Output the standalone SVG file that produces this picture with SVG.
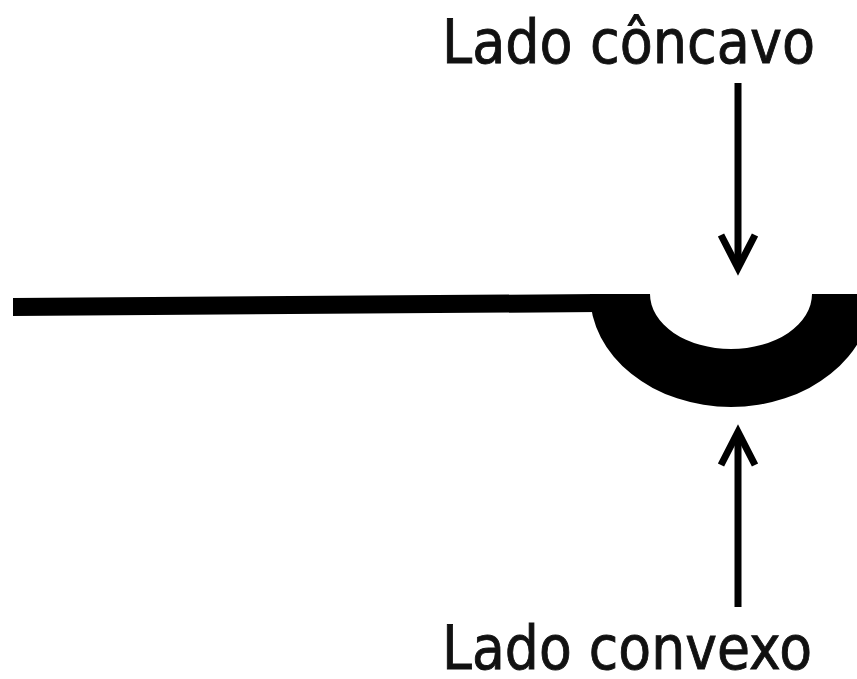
<svg xmlns="http://www.w3.org/2000/svg" width="857" height="679" viewBox="0 0 857 679">
<style>
.lbl{font-family:"DejaVu Sans","Liberation Sans",sans-serif;font-size:60px;fill:#111;stroke:#111;stroke-width:0.9;}
.arr{stroke:#000;stroke-width:7;fill:none;}
</style>
<rect width="857" height="679" fill="#fff"/>
<g id="shape">
<polygon points="13,298 600,294 600,312 13,316" fill="#000"/>
<path d="M590,294 A141,113 0 0 0 872,294 L812,294 A81,55 0 0 1 650,294 Z" fill="#000"/>
</g>
<g id="label-concavo">
<text class="lbl" x="442" y="63" textLength="373" lengthAdjust="spacingAndGlyphs">Lado côncavo</text>
</g>
<g id="label-convexo">
<text class="lbl" x="442" y="669" font-size="59" textLength="370" lengthAdjust="spacingAndGlyphs">Lado convexo</text>
</g>
<g id="connectors">
<line class="arr" x1="738" y1="83" x2="738" y2="268"/>
<polyline class="arr" points="721,235 738,268 755,235" stroke-linejoin="miter"/>
<line class="arr" x1="738" y1="432" x2="738" y2="607"/>
<polyline class="arr" points="721,465 738,432 755,465" stroke-linejoin="miter"/>
</g>
</svg>
